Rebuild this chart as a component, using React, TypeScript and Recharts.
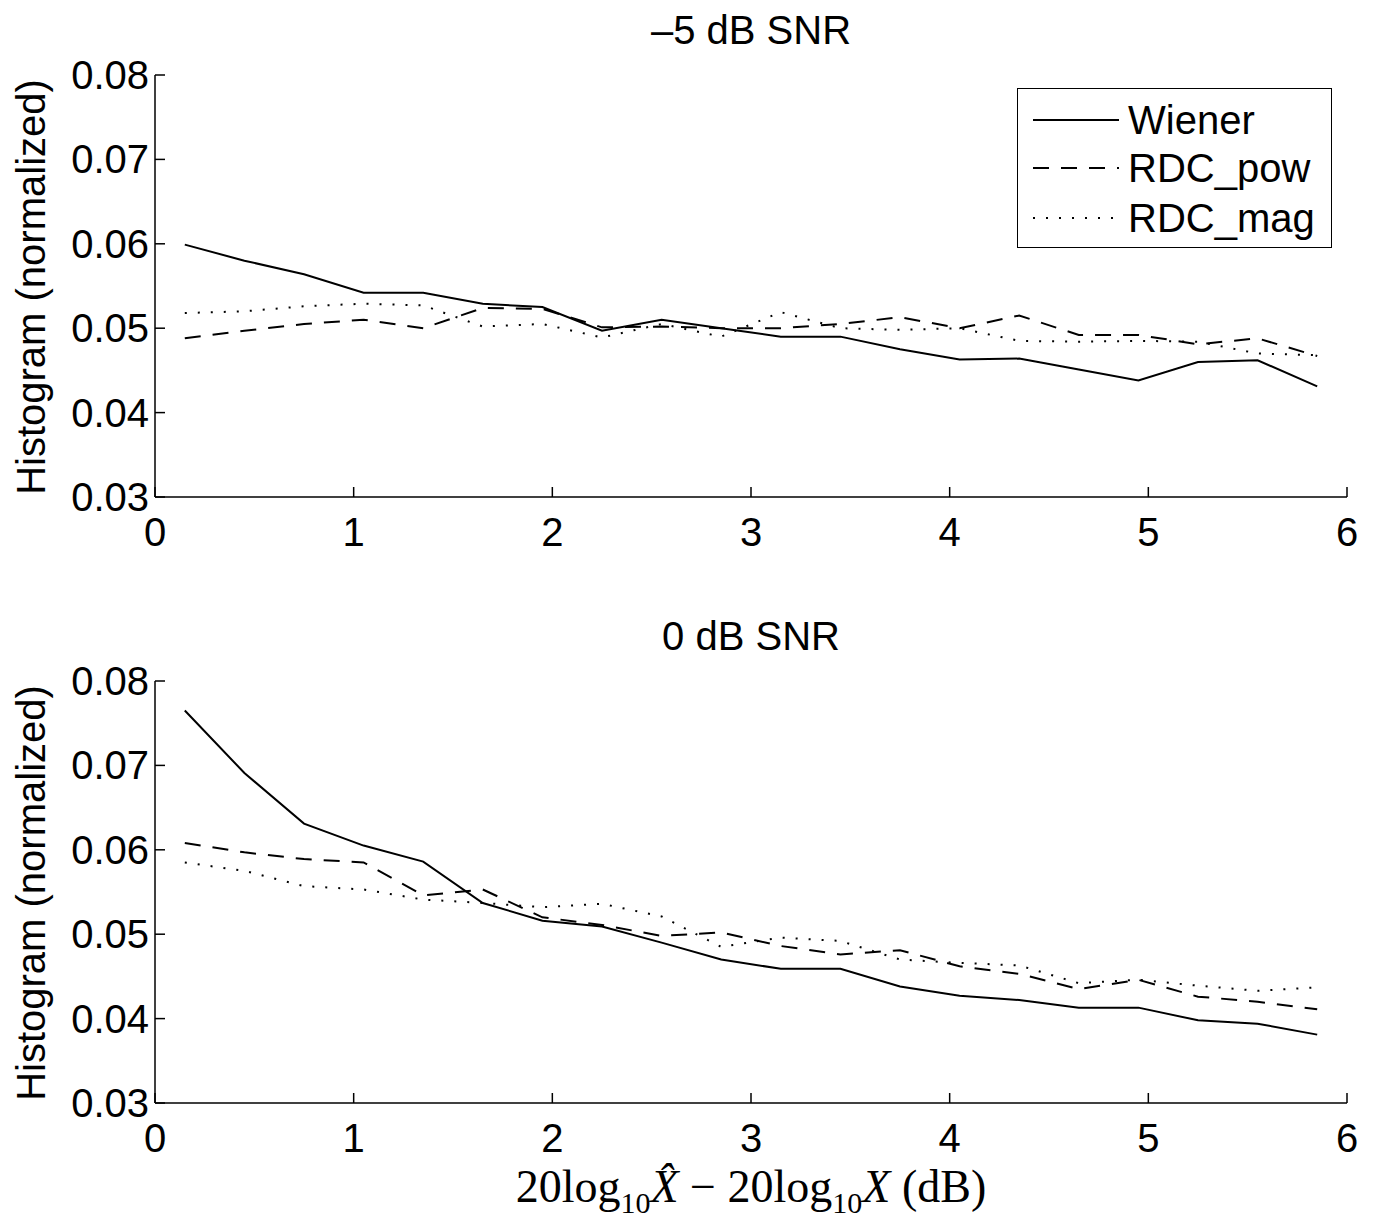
import React from "react"
import { LineChart, Line, XAxis, YAxis, Legend } from "recharts"

// x positions of the histogram bins (dB)
const binCenters = [0.15, 0.45, 0.75, 1.05, 1.35, 1.65, 1.95, 2.25, 2.55, 2.85, 3.15, 3.45, 3.75, 4.05, 4.35, 4.65, 4.95, 5.25, 5.55, 5.85]

// -5 dB SNR
const wienerM5 = [0.0599, 0.058, 0.0564, 0.0542, 0.0542, 0.0529, 0.0525, 0.0497, 0.051, 0.05, 0.049, 0.049, 0.0475, 0.0463, 0.0464, 0.0451, 0.0438, 0.046, 0.0462, 0.0431]
const rdcPowM5 = [0.0488, 0.0497, 0.0505, 0.051, 0.05, 0.0524, 0.0523, 0.0501, 0.0502, 0.05, 0.05, 0.0505, 0.0513, 0.05, 0.0515, 0.0492, 0.0492, 0.0481, 0.0488, 0.0467]
const rdcMagM5 = [0.0518, 0.052, 0.0526, 0.0529, 0.0527, 0.0502, 0.0505, 0.0489, 0.0505, 0.049, 0.0519, 0.05, 0.0498, 0.05, 0.0485, 0.0484, 0.0485, 0.0484, 0.047, 0.0468]

// 0 dB SNR
const wiener0 = [0.0765, 0.0691, 0.0631, 0.0605, 0.0586, 0.0537, 0.0516, 0.0509, 0.049, 0.047, 0.0459, 0.0459, 0.0438, 0.0427, 0.0422, 0.0413, 0.0413, 0.0398, 0.0394, 0.0381]
const rdcPow0 = [0.0608, 0.0597, 0.0589, 0.0585, 0.0546, 0.0553, 0.052, 0.0511, 0.0498, 0.0502, 0.0486, 0.0476, 0.0481, 0.0462, 0.0453, 0.0435, 0.0446, 0.0426, 0.042, 0.0411]
const rdcMag0 = [0.0585, 0.0575, 0.0557, 0.0553, 0.0541, 0.0537, 0.0532, 0.0536, 0.0521, 0.0485, 0.0496, 0.0492, 0.047, 0.0466, 0.0463, 0.0442, 0.0446, 0.0439, 0.0433, 0.0437]

const xTicks = [0, 1, 2, 3, 4, 5, 6]
const yTicks = [0.03, 0.04, 0.05, 0.06, 0.07, 0.08]

const series = [
  { key: "wiener", name: "Wiener", dash: undefined as string | undefined },
  { key: "pow", name: "RDC_pow", dash: "16 12" },
  { key: "mag", name: "RDC_mag", dash: "2 11" },
]

const SANS = '"Liberation Sans", Arial, Helvetica, sans-serif'
const SERIF = '"Liberation Serif", "Times New Roman", serif'
const FS = 40

function buildRows(w: number[], p: number[], m: number[]) {
  return binCenters.map((x, i) => ({ x, wiener: w[i], pow: p[i], mag: m[i] }))
}

const XTick = ({ x, y, payload }: any) => (
  <g>
    <line x1={x} y1={y} x2={x} y2={y - 10} stroke="#000" strokeWidth={1.5} />
    <text x={x} y={y + 35} textAnchor="middle" dominantBaseline="central" fontFamily={SANS} fontSize={FS} fill="#000">
      {payload.value}
    </text>
  </g>
)

const YTick = ({ x, y, payload }: any) => (
  <g>
    <line x1={x} y1={y} x2={x + 10} y2={y} stroke="#000" strokeWidth={1.5} />
    <text x={x - 6} y={y} textAnchor="end" dominantBaseline="central" fontFamily={SANS} fontSize={FS} fill="#000">
      {payload.value.toFixed(2)}
    </text>
  </g>
)

const LegendBox = () => (
  <div
    style={{
      width: 315,
      height: 160,
      border: "1.5px solid #000",
      boxSizing: "border-box",
      background: "#fff",
      position: "relative",
      fontFamily: SANS,
      fontSize: FS,
    }}
  >
    {series.map((s, i) => {
      const cy = [31, 79, 129][i]
      return (
        <div key={s.key} style={{ position: "absolute", left: 0, top: cy - 20, height: 40, width: "100%" }}>
          <svg width={110} height={40} style={{ position: "absolute", left: 0, top: 0 }}>
            <line x1={15} y1={20} x2={101} y2={20} stroke="#000" strokeWidth={2} strokeDasharray={s.dash} />
          </svg>
          <span style={{ position: "absolute", left: 110, top: 0, lineHeight: "40px", whiteSpace: "nowrap" }}>{s.name}</span>
        </div>
      )
    })}
  </div>
)

function Panel({ rows, height, margin, showLegend }: any) {
  return (
    <LineChart width={1376} height={height} data={rows} margin={margin}>
      <XAxis
        dataKey="x"
        type="number"
        domain={[0, 6]}
        ticks={xTicks}
        height={40}
        tickSize={0}
        tickMargin={0}
        tickLine={false}
        axisLine={{ stroke: "#000", strokeWidth: 1.5 }}
        tick={<XTick />}
        interval={0}
      />
      <YAxis
        type="number"
        domain={[0.03, 0.08]}
        ticks={yTicks}
        width={80}
        tickSize={0}
        tickMargin={0}
        tickLine={false}
        axisLine={{ stroke: "#000", strokeWidth: 1.5 }}
        tick={<YTick />}
        interval={0}
        allowDataOverflow
      />
      {series.map((s) => (
        <Line
          key={s.key}
          dataKey={s.key}
          name={s.name}
          type="linear"
          stroke="#000"
          strokeWidth={2}
          strokeDasharray={s.dash}
          dot={false}
          activeDot={false}
          isAnimationActive={false}
        />
      ))}
      {showLegend && (
        <Legend
          layout="vertical"
          align="center"
          verticalAlign="middle"
          content={<LegendBox />}
          wrapperStyle={{ left: 1017, top: 88, right: "auto", bottom: "auto", width: 315 }}
        />
      )}
    </LineChart>
  )
}

const titleStyle: React.CSSProperties = {
  position: "absolute",
  left: 551,
  width: 400,
  textAlign: "center",
  fontFamily: SANS,
  fontSize: FS,
  lineHeight: 1,
  whiteSpace: "nowrap",
}

const yLabelStyle = (cy: number): React.CSSProperties => ({
  position: "absolute",
  left: 31,
  top: cy,
  transform: "translate(-50%, -50%) rotate(-90deg)",
  fontFamily: SANS,
  fontSize: FS,
  lineHeight: 1,
  whiteSpace: "nowrap",
})

export default function App() {
  const topRows = buildRows(wienerM5, rdcPowM5, rdcMagM5)
  const bottomRows = buildRows(wiener0, rdcPow0, rdcMag0)
  const sub = { fontSize: 30, verticalAlign: "-11px" as const }

  return (
    <div style={{ position: "absolute", left: 0, top: 0, width: 1376, height: 1219, background: "#fff" }}>
      <Panel rows={topRows} height={560} margin={{ top: 75, right: 29, bottom: 23, left: 75 }} showLegend />
      <Panel rows={bottomRows} height={659} margin={{ top: 121, right: 29, bottom: 76, left: 75 }} />

      <div style={{ ...titleStyle, top: 10 }}>–5 dB SNR</div>
      <div style={{ ...titleStyle, top: 616 }}>0 dB SNR</div>
      <div style={yLabelStyle(287)}>Histogram (normalized)</div>
      <div style={yLabelStyle(893)}>Histogram (normalized)</div>

      <div
        style={{
          position: "absolute",
          left: 401,
          width: 700,
          top: 1164,
          textAlign: "center",
          fontFamily: SERIF,
          fontSize: 46,
          lineHeight: 1,
          whiteSpace: "nowrap",
        }}
      >
        20log<span style={sub}>10</span>
        <i>X&#770;</i> − 20log<span style={sub}>10</span>
        <i>X</i> (dB)
      </div>
    </div>
  )
}
